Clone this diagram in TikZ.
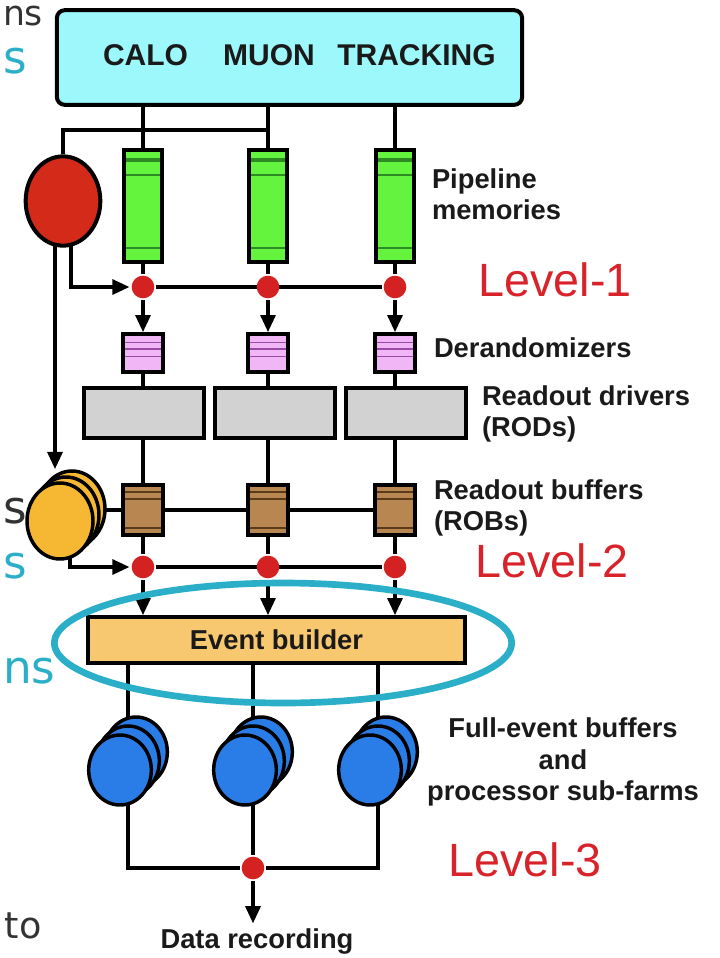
\documentclass[tikz,border=0pt]{standalone}
\usepackage{fontspec}
\setmainfont{Liberation Sans}
\newfontfamily\slidefont{DejaVu Sans}
\usetikzlibrary{arrows.meta,shapes.geometric,positioning,backgrounds}
\definecolor{detcyan}{HTML}{9CF8FB}
\definecolor{pipegreen}{HTML}{64F43E}
\definecolor{pipedark}{HTML}{2E8A24}
\definecolor{derandpink}{HTML}{F0B6F6}
\definecolor{derandline}{HTML}{9A4AA6}
\definecolor{rodgray}{HTML}{D2D2D2}
\definecolor{robbrown}{HTML}{B88650}
\definecolor{robline}{HTML}{5A3A18}
\definecolor{evbuild}{HTML}{F8C870}
\definecolor{lvlred}{HTML}{D8232A}
\definecolor{dotred}{HTML}{D42222}
\definecolor{l1red}{HTML}{D42A1A}
\definecolor{trigyellow}{HTML}{F6B832}
\definecolor{farmblue}{HTML}{2A7DE6}
\definecolor{ringteal}{HTML}{2BAEC8}
\definecolor{slidegray}{HTML}{333333}
\definecolor{labelgray}{HTML}{1A1A1A}

\begin{document}
\begin{tikzpicture}[x=0.75pt, y=-0.75pt, line width=3pt,
  unit/.style={draw, line width=3pt, inner sep=0pt},
  pipemem/.style={unit, fill=pipegreen, minimum width=28.5pt, minimum height=84pt,
    path picture={\foreach \s/\w in {7.5pt/3pt, 19pt/1.5pt, 73.5pt/1.5pt}
      \draw[pipedark, line width=\w] ([yshift=-\s]path picture bounding box.north west) -- ([yshift=-\s]path picture bounding box.north east);}},
  derand/.style={unit, fill=derandpink, minimum width=30pt, minimum height=28pt,
    path picture={\foreach \s in {6pt,11pt,16.5pt}
      \draw[derandline, line width=1.2pt] ([yshift=-\s]path picture bounding box.north west) -- ([yshift=-\s]path picture bounding box.north east);}},
  rod/.style={unit, fill=rodgray, minimum width=90pt, minimum height=37.5pt},
  rob/.style={unit, fill=robbrown, minimum width=30pt, minimum height=37.5pt,
    path picture={\foreach \s in {5pt,10.5pt,32.5pt}
      \draw[robline, line width=1.5pt] ([yshift=-\s]path picture bounding box.north west) -- ([yshift=-\s]path picture bounding box.north east);}},
  joint/.style={circle, fill=dotred, minimum size=17pt, inner sep=0pt},
  ystack/.style={ellipse, draw, line width=2.6pt, fill=trigyellow, minimum width=49.5pt, minimum height=57pt, inner sep=0pt},
  bstack/.style={ellipse, draw, line width=2.6pt, fill=farmblue, minimum width=47pt, minimum height=52.5pt, inner sep=0pt},
  dettxt/.style={font=\bfseries\fontsize{22.5}{25}\selectfont, text=labelgray, inner sep=0pt},
  lbl/.style={font=\bfseries\fontsize{20.5}{23.5}\selectfont, text=labelgray, align=left, anchor=west, inner sep=0pt},
  lvl/.style={font=\fontsize{35}{40}\selectfont, text=lvlred, inner sep=0pt},
  frag/.style={font=\slidefont\fontsize{#1}{#1}\selectfont, anchor=base west, inner sep=0pt},
  arr/.style={-{Triangle[length=13pt,width=11pt]}}]
  \useasboundingbox (0,0) rectangle (720,958);

  \node[frag=26, text=slidegray] (fr1) at (1,25) {ns};
  \node[frag=34, text=ringteal] (fr2) at (1,73) {s};
  \node[frag=34, text=slidegray] (fr3) at (1,523) {s};
  \node[frag=34, text=ringteal] (fr4) at (1,578) {s};
  \node[frag=34, text=ringteal] (fr5) at (1,683) {ns};
  \node[frag=27.5, text=slidegray] (fr6) at (3,938) {to};

  \node[unit, fill=detcyan, rounded corners=6pt, minimum width=349pt, minimum height=71pt] (det) at (289.5,57.5) {};
  \node[dettxt] (calo) at (145.5,55) {CALO};
  \node[dettxt] (muon) at (269,55) {MUON};
  \node[dettxt] (trk) at (416.5,55) {TRACKING};
  \coordinate (tap) at (268,130);

  \node[ellipse, draw, line width=3pt, fill=l1red, minimum width=56pt, minimum height=67pt] (l1) at (63,201) {};

  \node[pipemem] (pm1) at (143,206) {};
  \node[pipemem] (pm2) at (268,206) {};
  \node[pipemem] (pm3) at (395,206) {};
  \node[joint] (la1) at (143,287) {};
  \node[joint] (la2) at (268,287) {};
  \node[joint] (la3) at (395,287) {};
  \node[derand] (dr1) at (143,353) {};
  \node[derand] (dr2) at (268,353) {};
  \node[derand] (dr3) at (395,353) {};
  \node[rod] (rd1) at (143.5,413) {};
  \node[rod] (rd2) at (275,413) {};
  \node[rod] (rd3) at (406,413) {};
  \node[rob] (rb1) at (143,510) {};
  \node[rob] (rb2) at (268,510) {};
  \node[rob] (rb3) at (395,510) {};
  \node[joint] (lb1) at (143,567) {};
  \node[joint] (lb2) at (268,567) {};
  \node[joint] (lb3) at (395,567) {};

  \node[ystack] (l2c) at (72,509) {};
  \node[ystack] (l2b) at (66,515) {};
  \node[ystack] (l2a) at (60,521) {};

  \node[unit, fill=evbuild, minimum width=283pt, minimum height=34pt, font=\bfseries\fontsize{20.5}{23}\selectfont, text=labelgray] (eb) at (276.5,640) {Event builder};

  \node[bstack] (f1c) at (136,752) {};
  \node[bstack] (f1b) at (128,761) {};
  \node[bstack] (f1a) at (120,770) {};
  \node[bstack] (f2c) at (261,752) {};
  \node[bstack] (f2b) at (253,761) {};
  \node[bstack] (f2a) at (245,770) {};
  \node[bstack] (f3c) at (386,752) {};
  \node[bstack] (f3b) at (378,761) {};
  \node[bstack] (f3a) at (370,770) {};
  \node[joint] (dd) at (253,868) {};
  \node[lbl, anchor=base, inner sep=2pt] (rec) at (257,948) {Data recording};

  \node[lbl] (plab) at (430,194) {Pipeline\\memories};
  \node[lbl] (dlab) at (432,348) {Derandomizers};
  \node[lbl] (rdlab) at (480,414) {Readout drivers\\(RODs)};
  \node[lbl] (rblab) at (432,508) {Readout buffers\\(ROBs)};
  \node[lbl, align=center, anchor=center] (flab) at (563,762) {Full-event buffers\\and\\processor sub-farms};

  \node[lvl] (lv1) at (555,280) {Level-1};
  \node[lvl] (lv2) at (552,561) {Level-2};
  \node[lvl] (lv3) at (525,860) {Level-3};

  \begin{scope}[on background layer={line width=3pt}]
    \draw (pm1 |- det.south) -- (pm1);
    \draw (pm2 |- det.south) -- (pm2);
    \draw (pm3 |- det.south) -- (pm3);
    \draw (l1) |- (tap);
    \draw (pm1) -- (la1);
    \draw (pm2) -- (la2);
    \draw (pm3) -- (la3);
    \draw (la1) -- (la3);
    \draw (dr1) -- (rb1) -- (lb1);
    \draw (dr2) -- (rb2) -- (lb2);
    \draw (dr3) -- (rb3) -- (lb3);
    \draw (l2a |- rb1) -- (rb3);
    \draw (lb1) -- (lb3);
    \draw[arr] ([xshift=6pt]l1.center) |- (la1.west);
    \draw[arr] ([xshift=-6pt]l1.center) -- ([xshift=-6pt]l1.center |- l2c.north);
    \draw[arr] ([xshift=7.5pt]l2a.center) |- (lb1.west);
    \draw (eb.south -| f1b) -- (f1b) |- (dd);
    \draw (eb.south -| f2b) -- (f2b) -- (dd);
    \draw (eb.south -| f3b) -- (f3b) |- (dd);
  \end{scope}

  \draw[arr] (la1.south) -- (dr1.north);
  \draw[arr] (la2.south) -- (dr2.north);
  \draw[arr] (la3.south) -- (dr3.north);
  \draw[arr] (lb1.south) -- (lb1 |- eb.north);
  \draw[arr] (lb2.south) -- (lb2 |- eb.north);
  \draw[arr] (lb3.south) -- (lb3 |- eb.north);
  \draw[arr] (dd.south) -- (dd |- rec.north);

  \node[ellipse, draw=ringteal, line width=5pt, minimum width=343pt, minimum height=90pt] (ring) at (283,643) {};
\end{tikzpicture}
\end{document}
